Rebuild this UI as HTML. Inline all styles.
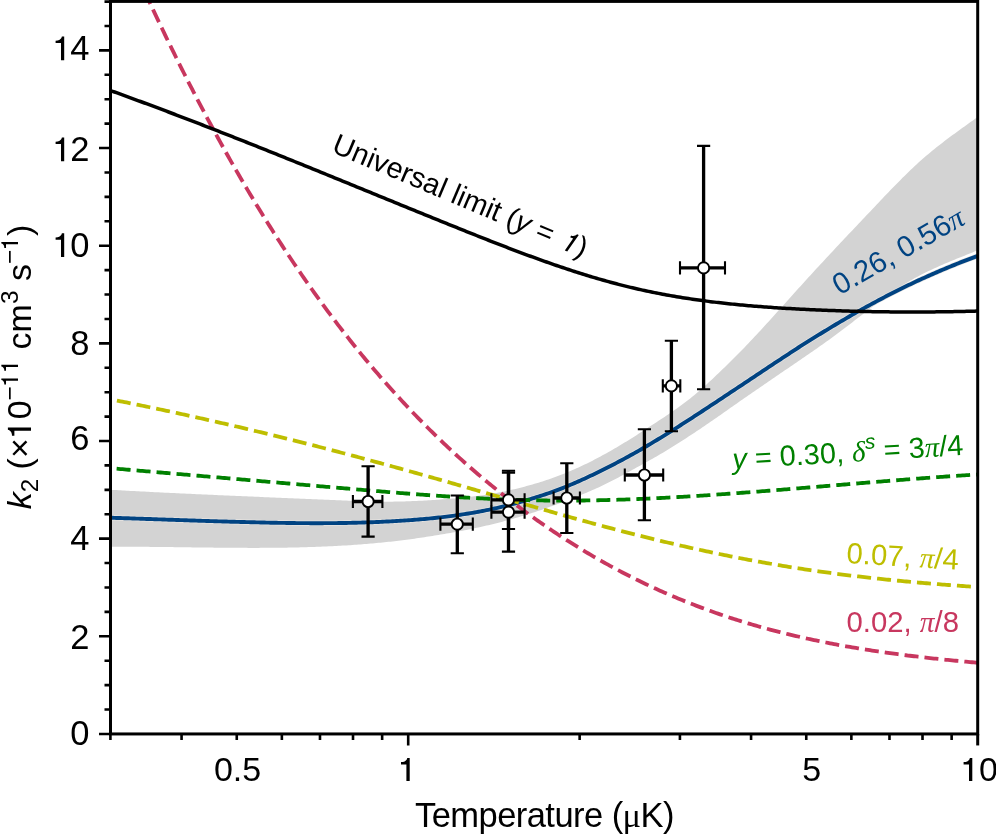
<!DOCTYPE html><html><head><meta charset="utf-8"><style>html,body{margin:0;padding:0;background:#fff;overflow:hidden}svg{display:block}</style></head><body>
<svg style="will-change:transform" width="996" height="835" viewBox="0 0 996 835" font-family="Liberation Sans, sans-serif">
<defs><clipPath id="c"><rect x="110.5" y="1.6" width="867.2" height="732.4"/></clipPath></defs>
<rect width="996" height="835" fill="#fff"/>
<g clip-path="url(#c)" fill="none">
<path d="M110.50 489.79L112.50 489.90L114.50 490.01L116.50 490.12L118.50 490.23L120.50 490.35L122.50 490.46L124.50 490.56L126.50 490.67L128.50 490.78L130.50 490.89L132.50 491.00L134.50 491.10L136.50 491.21L138.50 491.31L140.50 491.42L142.50 491.52L144.50 491.62L146.50 491.73L148.50 491.83L150.50 491.93L152.50 492.03L154.50 492.13L156.50 492.23L158.50 492.33L160.50 492.43L162.50 492.53L164.50 492.63L166.50 492.73L168.50 492.83L170.50 492.92L172.50 493.02L174.50 493.12L176.50 493.21L178.50 493.31L180.50 493.40L182.50 493.50L184.50 493.59L186.50 493.69L188.50 493.78L190.50 493.87L192.50 493.97L194.50 494.06L196.50 494.15L198.50 494.24L200.50 494.33L202.50 494.42L204.50 494.51L206.50 494.61L208.50 494.70L210.50 494.78L212.50 494.87L214.50 494.96L216.50 495.05L218.50 495.14L220.50 495.23L222.50 495.32L224.50 495.41L226.50 495.49L228.50 495.58L230.50 495.67L232.50 495.76L234.50 495.84L236.50 495.93L238.50 496.02L240.50 496.10L242.50 496.19L244.50 496.27L246.50 496.36L248.50 496.45L250.50 496.53L252.50 496.62L254.50 496.70L256.50 496.79L258.50 496.87L260.50 496.96L262.50 497.04L264.50 497.13L266.50 497.21L268.50 497.30L270.50 497.38L272.50 497.46L274.50 497.55L276.50 497.63L278.50 497.72L280.50 497.80L282.50 497.89L284.50 497.97L286.50 498.06L288.50 498.14L290.50 498.22L292.50 498.31L294.50 498.39L296.50 498.48L298.50 498.56L300.50 498.65L302.50 498.73L304.50 498.82L306.50 498.90L308.50 498.98L310.50 499.07L312.50 499.15L314.50 499.24L316.50 499.32L318.50 499.41L320.50 499.50L322.50 499.58L324.50 499.67L326.50 499.75L328.50 499.84L330.50 499.92L332.50 500.01L334.50 500.10L336.50 500.18L338.50 500.27L340.50 500.35L342.50 500.44L344.50 500.52L346.50 500.61L348.50 500.69L350.50 500.77L352.50 500.85L354.50 500.93L356.50 501.00L358.50 501.08L360.50 501.15L362.50 501.22L364.50 501.29L366.50 501.36L368.50 501.42L370.50 501.48L372.50 501.54L374.50 501.59L376.50 501.63L378.50 501.66L380.50 501.68L382.50 501.70L384.50 501.70L386.50 501.70L388.50 501.68L390.50 501.66L392.50 501.63L394.50 501.60L396.50 501.57L398.50 501.53L400.50 501.48L402.50 501.43L404.50 501.38L406.50 501.32L408.50 501.25L410.50 501.18L412.50 501.10L414.50 501.02L416.50 500.94L418.50 500.85L420.50 500.76L422.50 500.66L424.50 500.56L426.50 500.45L428.50 500.34L430.50 500.22L432.50 500.10L434.50 499.97L436.50 499.83L438.50 499.68L440.50 499.53L442.50 499.37L444.50 499.21L446.50 499.05L448.50 498.88L450.50 498.72L452.50 498.55L454.50 498.38L456.50 498.21L458.50 498.04L460.50 497.87L462.50 497.68L464.50 497.48L466.50 497.28L468.50 497.07L470.50 496.84L472.50 496.61L474.50 496.36L476.50 496.11L478.50 495.85L480.50 495.57L482.50 495.28L484.50 494.99L486.50 494.68L488.50 494.36L490.50 494.03L492.50 493.69L494.50 493.34L496.50 492.97L498.50 492.60L500.50 492.21L502.50 491.81L504.50 491.40L506.50 490.97L508.50 490.53L510.50 490.08L512.50 489.62L514.50 489.15L516.50 488.67L518.50 488.18L520.50 487.68L522.50 487.16L524.50 486.64L526.50 486.11L528.50 485.56L530.50 485.01L532.50 484.44L534.50 483.86L536.50 483.26L538.50 482.65L540.50 482.03L542.50 481.40L544.50 480.75L546.50 480.09L548.50 479.41L550.50 478.72L552.50 478.02L554.50 477.30L556.50 476.56L558.50 475.81L560.50 475.04L562.50 474.26L564.50 473.46L566.50 472.64L568.50 471.81L570.50 470.96L572.50 470.09L574.50 469.21L576.50 468.32L578.50 467.41L580.50 466.49L582.50 465.55L584.50 464.60L586.50 463.63L588.50 462.65L590.50 461.65L592.50 460.64L594.50 459.61L596.50 458.57L598.50 457.52L600.50 456.45L602.50 455.37L604.50 454.27L606.50 453.16L608.50 452.03L610.50 450.89L612.50 449.74L614.50 448.58L616.50 447.40L618.50 446.22L620.50 445.02L622.50 443.82L624.50 442.61L626.50 441.39L628.50 440.17L630.50 438.93L632.50 437.68L634.50 436.42L636.50 435.15L638.50 433.87L640.50 432.58L642.50 431.28L644.50 429.98L646.50 428.68L648.50 427.37L650.50 426.07L652.50 424.78L654.50 423.48L656.50 422.18L658.50 420.87L660.50 419.56L662.50 418.24L664.50 416.92L666.50 415.57L668.50 414.22L670.50 412.85L672.50 411.47L674.50 410.08L676.50 408.66L678.50 407.23L680.50 405.78L682.50 404.30L684.50 402.80L686.50 401.28L688.50 399.72L690.50 398.14L692.50 396.52L694.50 394.88L696.50 393.21L698.50 391.51L700.50 389.78L702.50 388.03L704.50 386.25L706.50 384.45L708.50 382.62L710.50 380.77L712.50 378.90L714.50 377.01L716.50 375.11L718.50 373.21L720.50 371.29L722.50 369.36L724.50 367.42L726.50 365.48L728.50 363.52L730.50 361.56L732.50 359.58L734.50 357.58L736.50 355.57L738.50 353.54L740.50 351.50L742.50 349.45L744.50 347.38L746.50 345.30L748.50 343.21L750.50 341.10L752.50 338.99L754.50 336.86L756.50 334.73L758.50 332.58L760.50 330.41L762.50 328.24L764.50 326.06L766.50 323.87L768.50 321.67L770.50 319.47L772.50 317.26L774.50 315.04L776.50 312.83L778.50 310.61L780.50 308.38L782.50 306.16L784.50 303.93L786.50 301.71L788.50 299.48L790.50 297.25L792.50 295.03L794.50 292.81L796.50 290.59L798.50 288.37L800.50 286.16L802.50 283.95L804.50 281.74L806.50 279.54L808.50 277.35L810.50 275.16L812.50 272.97L814.50 270.80L816.50 268.62L818.50 266.45L820.50 264.29L822.50 262.13L824.50 259.97L826.50 257.82L828.50 255.68L830.50 253.53L832.50 251.39L834.50 249.25L836.50 247.12L838.50 244.99L840.50 242.86L842.50 240.73L844.50 238.61L846.50 236.49L848.50 234.37L850.50 232.25L852.50 230.13L854.50 228.02L856.50 225.90L858.50 223.79L860.50 221.68L862.50 219.57L864.50 217.46L866.50 215.35L868.50 213.24L870.50 211.13L872.50 209.02L874.50 206.91L876.50 204.80L878.50 202.69L880.50 200.58L882.50 198.47L884.50 196.37L886.50 194.27L888.50 192.19L890.50 190.11L892.50 188.04L894.50 185.98L896.50 183.93L898.50 181.89L900.50 179.88L902.50 177.87L904.50 175.89L906.50 173.92L908.50 171.98L910.50 170.05L912.50 168.15L914.50 166.27L916.50 164.42L918.50 162.60L920.50 160.80L922.50 159.03L924.50 157.29L926.50 155.58L928.50 153.89L930.50 152.22L932.50 150.58L934.50 148.95L936.50 147.35L938.50 145.77L940.50 144.20L942.50 142.65L944.50 141.12L946.50 139.60L948.50 138.09L950.50 136.60L952.50 135.12L954.50 133.64L956.50 132.18L958.50 130.72L960.50 129.27L962.50 127.82L964.50 126.38L966.50 124.94L968.50 123.51L970.50 122.07L972.50 120.63L974.50 119.19L976.50 117.75L977.70 116.88L977.70 250.32L976.50 250.81L974.50 251.62L972.50 252.43L970.50 253.23L968.50 254.03L966.50 254.84L964.50 255.64L962.50 256.44L960.50 257.25L958.50 258.06L956.50 258.87L954.50 259.69L952.50 260.51L950.50 261.34L948.50 262.18L946.50 263.02L944.50 263.87L942.50 264.74L940.50 265.61L938.50 266.49L936.50 267.39L934.50 268.30L932.50 269.23L930.50 270.17L928.50 271.12L926.50 272.09L924.50 273.08L922.50 274.09L920.50 275.12L918.50 276.17L916.50 277.23L914.50 278.32L912.50 279.44L910.50 280.57L908.50 281.73L906.50 282.92L904.50 284.13L902.50 285.37L900.50 286.63L898.50 287.93L896.50 289.25L894.50 290.60L892.50 291.97L890.50 293.36L888.50 294.78L886.50 296.22L884.50 297.67L882.50 299.14L880.50 300.62L878.50 302.12L876.50 303.63L874.50 305.15L872.50 306.68L870.50 308.22L868.50 309.76L866.50 311.31L864.50 312.86L862.50 314.41L860.50 315.96L858.50 317.51L856.50 319.07L854.50 320.61L852.50 322.16L850.50 323.70L848.50 325.24L846.50 326.77L844.50 328.29L842.50 329.81L840.50 331.32L838.50 332.82L836.50 334.31L834.50 335.78L832.50 337.25L830.50 338.70L828.50 340.15L826.50 341.59L824.50 343.02L822.50 344.44L820.50 345.85L818.50 347.25L816.50 348.65L814.50 350.03L812.50 351.42L810.50 352.80L808.50 354.17L806.50 355.55L804.50 356.93L802.50 358.30L800.50 359.67L798.50 361.05L796.50 362.42L794.50 363.79L792.50 365.16L790.50 366.53L788.50 367.89L786.50 369.26L784.50 370.62L782.50 371.98L780.50 373.34L778.50 374.70L776.50 376.06L774.50 377.42L772.50 378.78L770.50 380.15L768.50 381.51L766.50 382.88L764.50 384.25L762.50 385.63L760.50 387.01L758.50 388.38L756.50 389.76L754.50 391.15L752.50 392.53L750.50 393.91L748.50 395.30L746.50 396.68L744.50 398.07L742.50 399.46L740.50 400.86L738.50 402.26L736.50 403.66L734.50 405.06L732.50 406.46L730.50 407.87L728.50 409.27L726.50 410.68L724.50 412.08L722.50 413.48L720.50 414.88L718.50 416.27L716.50 417.67L714.50 419.06L712.50 420.45L710.50 421.83L708.50 423.21L706.50 424.59L704.50 425.96L702.50 427.32L700.50 428.67L698.50 430.02L696.50 431.35L694.50 432.68L692.50 434.00L690.50 435.31L688.50 436.62L686.50 437.92L684.50 439.21L682.50 440.50L680.50 441.79L678.50 443.07L676.50 444.34L674.50 445.61L672.50 446.87L670.50 448.11L668.50 449.34L666.50 450.56L664.50 451.76L662.50 452.95L660.50 454.12L658.50 455.28L656.50 456.43L654.50 457.56L652.50 458.69L650.50 459.82L648.50 460.93L646.50 462.05L644.50 463.16L642.50 464.27L640.50 465.39L638.50 466.50L636.50 467.61L634.50 468.72L632.50 469.82L630.50 470.93L628.50 472.03L626.50 473.12L624.50 474.20L622.50 475.28L620.50 476.34L618.50 477.40L616.50 478.45L614.50 479.49L612.50 480.52L610.50 481.54L608.50 482.55L606.50 483.55L604.50 484.54L602.50 485.50L600.50 486.45L598.50 487.38L596.50 488.30L594.50 489.20L592.50 490.08L590.50 490.94L588.50 491.80L586.50 492.65L584.50 493.48L582.50 494.32L580.50 495.14L578.50 495.95L576.50 496.76L574.50 497.55L572.50 498.34L570.50 499.13L568.50 499.90L566.50 500.67L564.50 501.43L562.50 502.18L560.50 502.94L558.50 503.68L556.50 504.42L554.50 505.16L552.50 505.89L550.50 506.62L548.50 507.33L546.50 508.04L544.50 508.75L542.50 509.44L540.50 510.13L538.50 510.81L536.50 511.48L534.50 512.14L532.50 512.80L530.50 513.45L528.50 514.09L526.50 514.72L524.50 515.34L522.50 515.96L520.50 516.56L518.50 517.16L516.50 517.75L514.50 518.32L512.50 518.90L510.50 519.46L508.50 520.01L506.50 520.56L504.50 521.10L502.50 521.63L500.50 522.15L498.50 522.67L496.50 523.18L494.50 523.68L492.50 524.18L490.50 524.67L488.50 525.15L486.50 525.62L484.50 526.08L482.50 526.54L480.50 526.99L478.50 527.43L476.50 527.87L474.50 528.30L472.50 528.72L470.50 529.13L468.50 529.54L466.50 529.94L464.50 530.33L462.50 530.72L460.50 531.10L458.50 531.47L456.50 531.84L454.50 532.20L452.50 532.55L450.50 532.90L448.50 533.24L446.50 533.58L444.50 533.92L442.50 534.25L440.50 534.59L438.50 534.92L436.50 535.25L434.50 535.58L432.50 535.91L430.50 536.24L428.50 536.56L426.50 536.87L424.50 537.18L422.50 537.49L420.50 537.79L418.50 538.08L416.50 538.37L414.50 538.65L412.50 538.93L410.50 539.20L408.50 539.47L406.50 539.73L404.50 539.99L402.50 540.24L400.50 540.49L398.50 540.73L396.50 540.96L394.50 541.20L392.50 541.42L390.50 541.64L388.50 541.86L386.50 542.07L384.50 542.28L382.50 542.48L380.50 542.68L378.50 542.87L376.50 543.06L374.50 543.25L372.50 543.43L370.50 543.60L368.50 543.77L366.50 543.94L364.50 544.10L362.50 544.26L360.50 544.41L358.50 544.56L356.50 544.71L354.50 544.85L352.50 544.99L350.50 545.13L348.50 545.26L346.50 545.38L344.50 545.50L342.50 545.62L340.50 545.74L338.50 545.85L336.50 545.96L334.50 546.06L332.50 546.16L330.50 546.26L328.50 546.36L326.50 546.45L324.50 546.53L322.50 546.62L320.50 546.70L318.50 546.78L316.50 546.85L314.50 546.92L312.50 546.99L310.50 547.06L308.50 547.12L306.50 547.18L304.50 547.24L302.50 547.29L300.50 547.34L298.50 547.39L296.50 547.44L294.50 547.48L292.50 547.52L290.50 547.56L288.50 547.60L286.50 547.63L284.50 547.66L282.50 547.69L280.50 547.72L278.50 547.74L276.50 547.77L274.50 547.79L272.50 547.80L270.50 547.82L268.50 547.83L266.50 547.85L264.50 547.86L262.50 547.87L260.50 547.87L258.50 547.88L256.50 547.88L254.50 547.88L252.50 547.88L250.50 547.88L248.50 547.88L246.50 547.87L244.50 547.87L242.50 547.86L240.50 547.85L238.50 547.84L236.50 547.83L234.50 547.82L232.50 547.81L230.50 547.79L228.50 547.78L226.50 547.76L224.50 547.74L222.50 547.72L220.50 547.71L218.50 547.69L216.50 547.67L214.50 547.64L212.50 547.62L210.50 547.60L208.50 547.58L206.50 547.55L204.50 547.53L202.50 547.50L200.50 547.48L198.50 547.45L196.50 547.43L194.50 547.40L192.50 547.38L190.50 547.35L188.50 547.33L186.50 547.30L184.50 547.27L182.50 547.25L180.50 547.22L178.50 547.20L176.50 547.17L174.50 547.14L172.50 547.12L170.50 547.09L168.50 547.07L166.50 547.05L164.50 547.02L162.50 547.00L160.50 546.98L158.50 546.96L156.50 546.94L154.50 546.91L152.50 546.90L150.50 546.88L148.50 546.86L146.50 546.84L144.50 546.83L142.50 546.81L140.50 546.80L138.50 546.78L136.50 546.77L134.50 546.76L132.50 546.75L130.50 546.75L128.50 546.74L126.50 546.73L124.50 546.73L122.50 546.73L120.50 546.73L118.50 546.73L116.50 546.73L114.50 546.73L112.50 546.74L110.50 546.75Z" fill="#d3d3d3"/>
<path d="M110.50 517.74L112.50 517.80L114.50 517.86L116.50 517.93L118.50 517.99L120.50 518.06L122.50 518.12L124.50 518.19L126.50 518.25L128.50 518.32L130.50 518.39L132.50 518.45L134.50 518.52L136.50 518.59L138.50 518.65L140.50 518.72L142.50 518.79L144.50 518.86L146.50 518.93L148.50 518.99L150.50 519.06L152.50 519.13L154.50 519.20L156.50 519.27L158.50 519.34L160.50 519.41L162.50 519.48L164.50 519.54L166.50 519.61L168.50 519.68L170.50 519.75L172.50 519.82L174.50 519.89L176.50 519.96L178.50 520.02L180.50 520.09L182.50 520.16L184.50 520.23L186.50 520.30L188.50 520.36L190.50 520.43L192.50 520.50L194.50 520.56L196.50 520.63L198.50 520.69L200.50 520.76L202.50 520.83L204.50 520.89L206.50 520.95L208.50 521.02L210.50 521.08L212.50 521.14L214.50 521.21L216.50 521.27L218.50 521.33L220.50 521.39L222.50 521.45L224.50 521.51L226.50 521.57L228.50 521.63L230.50 521.69L232.50 521.74L234.50 521.80L236.50 521.86L238.50 521.91L240.50 521.96L242.50 522.02L244.50 522.07L246.50 522.12L248.50 522.17L250.50 522.22L252.50 522.27L254.50 522.32L256.50 522.37L258.50 522.42L260.50 522.46L262.50 522.51L264.50 522.55L266.50 522.60L268.50 522.64L270.50 522.68L272.50 522.72L274.50 522.76L276.50 522.79L278.50 522.83L280.50 522.86L282.50 522.89L284.50 522.92L286.50 522.95L288.50 522.98L290.50 523.01L292.50 523.03L294.50 523.06L296.50 523.08L298.50 523.10L300.50 523.12L302.50 523.13L304.50 523.15L306.50 523.16L308.50 523.17L310.50 523.18L312.50 523.18L314.50 523.19L316.50 523.19L318.50 523.19L320.50 523.19L322.50 523.18L324.50 523.17L326.50 523.16L328.50 523.15L330.50 523.14L332.50 523.12L334.50 523.10L336.50 523.08L338.50 523.05L340.50 523.03L342.50 523.00L344.50 522.96L346.50 522.93L348.50 522.89L350.50 522.85L352.50 522.81L354.50 522.76L356.50 522.71L358.50 522.65L360.50 522.60L362.50 522.54L364.50 522.48L366.50 522.41L368.50 522.34L370.50 522.27L372.50 522.19L374.50 522.11L376.50 522.03L378.50 521.95L380.50 521.86L382.50 521.76L384.50 521.67L386.50 521.57L388.50 521.46L390.50 521.36L392.50 521.24L394.50 521.13L396.50 521.01L398.50 520.89L400.50 520.77L402.50 520.64L404.50 520.51L406.50 520.37L408.50 520.23L410.50 520.09L412.50 519.94L414.50 519.79L416.50 519.63L418.50 519.47L420.50 519.30L422.50 519.13L424.50 518.95L426.50 518.77L428.50 518.58L430.50 518.39L432.50 518.19L434.50 517.98L436.50 517.77L438.50 517.55L440.50 517.33L442.50 517.10L444.50 516.86L446.50 516.62L448.50 516.37L450.50 516.11L452.50 515.85L454.50 515.58L456.50 515.30L458.50 515.02L460.50 514.72L462.50 514.43L464.50 514.12L466.50 513.80L468.50 513.48L470.50 513.15L472.50 512.82L474.50 512.47L476.50 512.11L478.50 511.75L480.50 511.38L482.50 511.00L484.50 510.61L486.50 510.21L488.50 509.80L490.50 509.38L492.50 508.95L494.50 508.52L496.50 508.07L498.50 507.62L500.50 507.15L502.50 506.68L504.50 506.20L506.50 505.70L508.50 505.20L510.50 504.68L512.50 504.16L514.50 503.63L516.50 503.08L518.50 502.53L520.50 501.96L522.50 501.38L524.50 500.80L526.50 500.21L528.50 499.62L530.50 499.02L532.50 498.41L534.50 497.80L536.50 497.18L538.50 496.55L540.50 495.91L542.50 495.26L544.50 494.60L546.50 493.93L548.50 493.25L550.50 492.55L552.50 491.84L554.50 491.12L556.50 490.38L558.50 489.63L560.50 488.86L562.50 488.08L564.50 487.28L566.50 486.47L568.50 485.64L570.50 484.80L572.50 483.95L574.50 483.10L576.50 482.23L578.50 481.35L580.50 480.46L582.50 479.56L584.50 478.65L586.50 477.73L588.50 476.80L590.50 475.86L592.50 474.92L594.50 473.96L596.50 472.99L598.50 472.02L600.50 471.04L602.50 470.05L604.50 469.05L606.50 468.04L608.50 467.02L610.50 466.00L612.50 464.97L614.50 463.93L616.50 462.88L618.50 461.82L620.50 460.76L622.50 459.69L624.50 458.61L626.50 457.52L628.50 456.43L630.50 455.33L632.50 454.23L634.50 453.11L636.50 451.98L638.50 450.85L640.50 449.70L642.50 448.55L644.50 447.38L646.50 446.21L648.50 445.02L650.50 443.83L652.50 442.63L654.50 441.43L656.50 440.22L658.50 439.01L660.50 437.79L662.50 436.56L664.50 435.33L666.50 434.09L668.50 432.85L670.50 431.59L672.50 430.34L674.50 429.07L676.50 427.81L678.50 426.53L680.50 425.26L682.50 423.98L684.50 422.69L686.50 421.41L688.50 420.12L690.50 418.82L692.50 417.53L694.50 416.23L696.50 414.92L698.50 413.62L700.50 412.31L702.50 411.00L704.50 409.68L706.50 408.37L708.50 407.05L710.50 405.73L712.50 404.41L714.50 403.08L716.50 401.76L718.50 400.43L720.50 399.11L722.50 397.78L724.50 396.46L726.50 395.13L728.50 393.81L730.50 392.48L732.50 391.15L734.50 389.83L736.50 388.50L738.50 387.17L740.50 385.84L742.50 384.51L744.50 383.18L746.50 381.85L748.50 380.52L750.50 379.19L752.50 377.86L754.50 376.53L756.50 375.20L758.50 373.87L760.50 372.54L762.50 371.21L764.50 369.88L766.50 368.55L768.50 367.22L770.50 365.89L772.50 364.57L774.50 363.24L776.50 361.92L778.50 360.60L780.50 359.28L782.50 357.96L784.50 356.64L786.50 355.33L788.50 354.01L790.50 352.70L792.50 351.40L794.50 350.10L796.50 348.80L798.50 347.51L800.50 346.23L802.50 344.96L804.50 343.69L806.50 342.42L808.50 341.17L810.50 339.92L812.50 338.67L814.50 337.43L816.50 336.19L818.50 334.96L820.50 333.73L822.50 332.50L824.50 331.28L826.50 330.06L828.50 328.85L830.50 327.64L832.50 326.43L834.50 325.23L836.50 324.04L838.50 322.85L840.50 321.66L842.50 320.48L844.50 319.31L846.50 318.14L848.50 316.97L850.50 315.81L852.50 314.66L854.50 313.51L856.50 312.37L858.50 311.24L860.50 310.11L862.50 308.99L864.50 307.88L866.50 306.78L868.50 305.68L870.50 304.59L872.50 303.50L874.50 302.43L876.50 301.35L878.50 300.29L880.50 299.23L882.50 298.17L884.50 297.12L886.50 296.08L888.50 295.05L890.50 294.02L892.50 293.00L894.50 291.98L896.50 290.97L898.50 289.97L900.50 288.98L902.50 288.00L904.50 287.02L906.50 286.05L908.50 285.09L910.50 284.14L912.50 283.19L914.50 282.25L916.50 281.32L918.50 280.39L920.50 279.47L922.50 278.56L924.50 277.66L926.50 276.76L928.50 275.87L930.50 274.98L932.50 274.10L934.50 273.22L936.50 272.35L938.50 271.49L940.50 270.63L942.50 269.78L944.50 268.94L946.50 268.10L948.50 267.27L950.50 266.45L952.50 265.63L954.50 264.82L956.50 264.01L958.50 263.22L960.50 262.43L962.50 261.64L964.50 260.87L966.50 260.11L968.50 259.35L970.50 258.60L972.50 257.87L974.50 257.14L976.50 256.43L977.70 256.00" stroke="#e8e5e2" stroke-width="5.2"/>
<path d="M110.50 517.74L112.50 517.80L114.50 517.86L116.50 517.93L118.50 517.99L120.50 518.06L122.50 518.12L124.50 518.19L126.50 518.25L128.50 518.32L130.50 518.39L132.50 518.45L134.50 518.52L136.50 518.59L138.50 518.65L140.50 518.72L142.50 518.79L144.50 518.86L146.50 518.93L148.50 518.99L150.50 519.06L152.50 519.13L154.50 519.20L156.50 519.27L158.50 519.34L160.50 519.41L162.50 519.48L164.50 519.54L166.50 519.61L168.50 519.68L170.50 519.75L172.50 519.82L174.50 519.89L176.50 519.96L178.50 520.02L180.50 520.09L182.50 520.16L184.50 520.23L186.50 520.30L188.50 520.36L190.50 520.43L192.50 520.50L194.50 520.56L196.50 520.63L198.50 520.69L200.50 520.76L202.50 520.83L204.50 520.89L206.50 520.95L208.50 521.02L210.50 521.08L212.50 521.14L214.50 521.21L216.50 521.27L218.50 521.33L220.50 521.39L222.50 521.45L224.50 521.51L226.50 521.57L228.50 521.63L230.50 521.69L232.50 521.74L234.50 521.80L236.50 521.86L238.50 521.91L240.50 521.96L242.50 522.02L244.50 522.07L246.50 522.12L248.50 522.17L250.50 522.22L252.50 522.27L254.50 522.32L256.50 522.37L258.50 522.42L260.50 522.46L262.50 522.51L264.50 522.55L266.50 522.60L268.50 522.64L270.50 522.68L272.50 522.72L274.50 522.76L276.50 522.79L278.50 522.83L280.50 522.86L282.50 522.89L284.50 522.92L286.50 522.95L288.50 522.98L290.50 523.01L292.50 523.03L294.50 523.06L296.50 523.08L298.50 523.10L300.50 523.12L302.50 523.13L304.50 523.15L306.50 523.16L308.50 523.17L310.50 523.18L312.50 523.18L314.50 523.19L316.50 523.19L318.50 523.19L320.50 523.19L322.50 523.18L324.50 523.17L326.50 523.16L328.50 523.15L330.50 523.14L332.50 523.12L334.50 523.10L336.50 523.08L338.50 523.05L340.50 523.03L342.50 523.00L344.50 522.96L346.50 522.93L348.50 522.89L350.50 522.85L352.50 522.81L354.50 522.76L356.50 522.71L358.50 522.65L360.50 522.60L362.50 522.54L364.50 522.48L366.50 522.41L368.50 522.34L370.50 522.27L372.50 522.19L374.50 522.11L376.50 522.03L378.50 521.95L380.50 521.86L382.50 521.76L384.50 521.67L386.50 521.57L388.50 521.46L390.50 521.36L392.50 521.24L394.50 521.13L396.50 521.01L398.50 520.89L400.50 520.77L402.50 520.64L404.50 520.51L406.50 520.37L408.50 520.23L410.50 520.09L412.50 519.94L414.50 519.79L416.50 519.63L418.50 519.47L420.50 519.30L422.50 519.13L424.50 518.95L426.50 518.77L428.50 518.58L430.50 518.39L432.50 518.19L434.50 517.98L436.50 517.77L438.50 517.55L440.50 517.33L442.50 517.10L444.50 516.86L446.50 516.62L448.50 516.37L450.50 516.11L452.50 515.85L454.50 515.58L456.50 515.30L458.50 515.02L460.50 514.72L462.50 514.43L464.50 514.12L466.50 513.80L468.50 513.48L470.50 513.15L472.50 512.82L474.50 512.47L476.50 512.11L478.50 511.75L480.50 511.38L482.50 511.00L484.50 510.61L486.50 510.21L488.50 509.80L490.50 509.38L492.50 508.95L494.50 508.52L496.50 508.07L498.50 507.62L500.50 507.15L502.50 506.68L504.50 506.20L506.50 505.70L508.50 505.20L510.50 504.68L512.50 504.16L514.50 503.63L516.50 503.08L518.50 502.53L520.50 501.96L522.50 501.38L524.50 500.80L526.50 500.21L528.50 499.62L530.50 499.02L532.50 498.41L534.50 497.80L536.50 497.18L538.50 496.55L540.50 495.91L542.50 495.26L544.50 494.60L546.50 493.93L548.50 493.25L550.50 492.55L552.50 491.84L554.50 491.12L556.50 490.38L558.50 489.63L560.50 488.86L562.50 488.08L564.50 487.28L566.50 486.47L568.50 485.64L570.50 484.80L572.50 483.95L574.50 483.10L576.50 482.23L578.50 481.35L580.50 480.46L582.50 479.56L584.50 478.65L586.50 477.73L588.50 476.80L590.50 475.86L592.50 474.92L594.50 473.96L596.50 472.99L598.50 472.02L600.50 471.04L602.50 470.05L604.50 469.05L606.50 468.04L608.50 467.02L610.50 466.00L612.50 464.97L614.50 463.93L616.50 462.88L618.50 461.82L620.50 460.76L622.50 459.69L624.50 458.61L626.50 457.52L628.50 456.43L630.50 455.33L632.50 454.23L634.50 453.11L636.50 451.98L638.50 450.85L640.50 449.70L642.50 448.55L644.50 447.38L646.50 446.21L648.50 445.02L650.50 443.83L652.50 442.63L654.50 441.43L656.50 440.22L658.50 439.01L660.50 437.79L662.50 436.56L664.50 435.33L666.50 434.09L668.50 432.85L670.50 431.59L672.50 430.34L674.50 429.07L676.50 427.81L678.50 426.53L680.50 425.26L682.50 423.98L684.50 422.69L686.50 421.41L688.50 420.12L690.50 418.82L692.50 417.53L694.50 416.23L696.50 414.92L698.50 413.62L700.50 412.31L702.50 411.00L704.50 409.68L706.50 408.37L708.50 407.05L710.50 405.73L712.50 404.41L714.50 403.08L716.50 401.76L718.50 400.43L720.50 399.11L722.50 397.78L724.50 396.46L726.50 395.13L728.50 393.81L730.50 392.48L732.50 391.15L734.50 389.83L736.50 388.50L738.50 387.17L740.50 385.84L742.50 384.51L744.50 383.18L746.50 381.85L748.50 380.52L750.50 379.19L752.50 377.86L754.50 376.53L756.50 375.20L758.50 373.87L760.50 372.54L762.50 371.21L764.50 369.88L766.50 368.55L768.50 367.22L770.50 365.89L772.50 364.57L774.50 363.24L776.50 361.92L778.50 360.60L780.50 359.28L782.50 357.96L784.50 356.64L786.50 355.33L788.50 354.01L790.50 352.70L792.50 351.40L794.50 350.10L796.50 348.80L798.50 347.51L800.50 346.23L802.50 344.96L804.50 343.69L806.50 342.42L808.50 341.17L810.50 339.92L812.50 338.67L814.50 337.43L816.50 336.19L818.50 334.96L820.50 333.73L822.50 332.50L824.50 331.28L826.50 330.06L828.50 328.85L830.50 327.64L832.50 326.43L834.50 325.23L836.50 324.04L838.50 322.85L840.50 321.66L842.50 320.48L844.50 319.31L846.50 318.14L848.50 316.97L850.50 315.81L852.50 314.66L854.50 313.51L856.50 312.37L858.50 311.24L860.50 310.11L862.50 308.99L864.50 307.88L866.50 306.78L868.50 305.68L870.50 304.59L872.50 303.50L874.50 302.43L876.50 301.35L878.50 300.29L880.50 299.23L882.50 298.17L884.50 297.12L886.50 296.08L888.50 295.05L890.50 294.02L892.50 293.00L894.50 291.98L896.50 290.97L898.50 289.97L900.50 288.98L902.50 288.00L904.50 287.02L906.50 286.05L908.50 285.09L910.50 284.14L912.50 283.19L914.50 282.25L916.50 281.32L918.50 280.39L920.50 279.47L922.50 278.56L924.50 277.66L926.50 276.76L928.50 275.87L930.50 274.98L932.50 274.10L934.50 273.22L936.50 272.35L938.50 271.49L940.50 270.63L942.50 269.78L944.50 268.94L946.50 268.10L948.50 267.27L950.50 266.45L952.50 265.63L954.50 264.82L956.50 264.01L958.50 263.22L960.50 262.43L962.50 261.64L964.50 260.87L966.50 260.11L968.50 259.35L970.50 258.60L972.50 257.87L974.50 257.14L976.50 256.43L977.70 256.00" stroke="#004382" stroke-width="3.9"/>
<path d="M110.50 468.19L112.50 468.36L114.50 468.53L116.50 468.71L118.50 468.88L120.50 469.05L122.50 469.22L124.50 469.40L126.50 469.57L128.50 469.74L130.50 469.91L132.50 470.08L134.50 470.26L136.50 470.43L138.50 470.60L140.50 470.77L142.50 470.95L144.50 471.12L146.50 471.29L148.50 471.46L150.50 471.63L152.50 471.81L154.50 471.98L156.50 472.15L158.50 472.32L160.50 472.49L162.50 472.67L164.50 472.84L166.50 473.01L168.50 473.18L170.50 473.36L172.50 473.53L174.50 473.70L176.50 473.87L178.50 474.04L180.50 474.22L182.50 474.39L184.50 474.56L186.50 474.73L188.50 474.90L190.50 475.08L192.50 475.25L194.50 475.42L196.50 475.59L198.50 475.76L200.50 475.94L202.50 476.11L204.50 476.28L206.50 476.45L208.50 476.62L210.50 476.80L212.50 476.97L214.50 477.14L216.50 477.31L218.50 477.48L220.50 477.66L222.50 477.83L224.50 478.00L226.50 478.17L228.50 478.34L230.50 478.52L232.50 478.69L234.50 478.86L236.50 479.03L238.50 479.20L240.50 479.38L242.50 479.55L244.50 479.72L246.50 479.89L248.50 480.07L250.50 480.24L252.50 480.41L254.50 480.58L256.50 480.75L258.50 480.93L260.50 481.10L262.50 481.27L264.50 481.44L266.50 481.61L268.50 481.79L270.50 481.96L272.50 482.13L274.50 482.30L276.50 482.48L278.50 482.65L280.50 482.82L282.50 482.99L284.50 483.16L286.50 483.34L288.50 483.51L290.50 483.68L292.50 483.85L294.50 484.03L296.50 484.20L298.50 484.37L300.50 484.54L302.50 484.72L304.50 484.89L306.50 485.06L308.50 485.23L310.50 485.40L312.50 485.58L314.50 485.75L316.50 485.92L318.50 486.09L320.50 486.27L322.50 486.44L324.50 486.61L326.50 486.78L328.50 486.96L330.50 487.13L332.50 487.30L334.50 487.48L336.50 487.65L338.50 487.82L340.50 487.99L342.50 488.17L344.50 488.34L346.50 488.51L348.50 488.68L350.50 488.85L352.50 489.03L354.50 489.20L356.50 489.37L358.50 489.54L360.50 489.71L362.50 489.88L364.50 490.05L366.50 490.22L368.50 490.39L370.50 490.56L372.50 490.73L374.50 490.89L376.50 491.06L378.50 491.23L380.50 491.39L382.50 491.56L384.50 491.72L386.50 491.89L388.50 492.05L390.50 492.21L392.50 492.38L394.50 492.54L396.50 492.70L398.50 492.86L400.50 493.02L402.50 493.17L404.50 493.33L406.50 493.49L408.50 493.64L410.50 493.80L412.50 493.95L414.50 494.10L416.50 494.25L418.50 494.40L420.50 494.55L422.50 494.70L424.50 494.85L426.50 494.99L428.50 495.13L430.50 495.28L432.50 495.42L434.50 495.56L436.50 495.70L438.50 495.84L440.50 495.97L442.50 496.11L444.50 496.24L446.50 496.37L448.50 496.50L450.50 496.63L452.50 496.76L454.50 496.88L456.50 497.01L458.50 497.13L460.50 497.25L462.50 497.37L464.50 497.49L466.50 497.60L468.50 497.72L470.50 497.83L472.50 497.94L474.50 498.05L476.50 498.16L478.50 498.26L480.50 498.36L482.50 498.47L484.50 498.56L486.50 498.66L488.50 498.76L490.50 498.85L492.50 498.94L494.50 499.03L496.50 499.12L498.50 499.20L500.50 499.28L502.50 499.36L504.50 499.44L506.50 499.52L508.50 499.59L510.50 499.66L512.50 499.73L514.50 499.80L516.50 499.86L518.50 499.92L520.50 499.98L522.50 500.04L524.50 500.09L526.50 500.14L528.50 500.19L530.50 500.24L532.50 500.28L534.50 500.32L536.50 500.36L538.50 500.40L540.50 500.43L542.50 500.46L544.50 500.49L546.50 500.51L548.50 500.53L550.50 500.55L552.50 500.57L554.50 500.58L556.50 500.59L558.50 500.60L560.50 500.61L562.50 500.61L564.50 500.61L566.50 500.61L568.50 500.61L570.50 500.60L572.50 500.59L574.50 500.58L576.50 500.56L578.50 500.55L580.50 500.53L582.50 500.50L584.50 500.48L586.50 500.45L588.50 500.43L590.50 500.39L592.50 500.36L594.50 500.32L596.50 500.29L598.50 500.25L600.50 500.20L602.50 500.16L604.50 500.11L606.50 500.06L608.50 500.01L610.50 499.96L612.50 499.90L614.50 499.85L616.50 499.79L618.50 499.72L620.50 499.66L622.50 499.59L624.50 499.53L626.50 499.46L628.50 499.39L630.50 499.31L632.50 499.24L634.50 499.16L636.50 499.08L638.50 499.00L640.50 498.92L642.50 498.83L644.50 498.74L646.50 498.66L648.50 498.57L650.50 498.48L652.50 498.38L654.50 498.29L656.50 498.19L658.50 498.09L660.50 497.99L662.50 497.89L664.50 497.79L666.50 497.68L668.50 497.58L670.50 497.47L672.50 497.36L674.50 497.25L676.50 497.14L678.50 497.02L680.50 496.91L682.50 496.79L684.50 496.67L686.50 496.55L688.50 496.43L690.50 496.31L692.50 496.19L694.50 496.06L696.50 495.94L698.50 495.81L700.50 495.68L702.50 495.55L704.50 495.42L706.50 495.29L708.50 495.16L710.50 495.02L712.50 494.89L714.50 494.75L716.50 494.61L718.50 494.47L720.50 494.34L722.50 494.19L724.50 494.05L726.50 493.91L728.50 493.77L730.50 493.62L732.50 493.48L734.50 493.33L736.50 493.19L738.50 493.04L740.50 492.89L742.50 492.74L744.50 492.59L746.50 492.44L748.50 492.29L750.50 492.14L752.50 491.98L754.50 491.83L756.50 491.67L758.50 491.52L760.50 491.36L762.50 491.21L764.50 491.05L766.50 490.89L768.50 490.74L770.50 490.58L772.50 490.42L774.50 490.26L776.50 490.10L778.50 489.94L780.50 489.78L782.50 489.62L784.50 489.45L786.50 489.29L788.50 489.13L790.50 488.97L792.50 488.80L794.50 488.64L796.50 488.48L798.50 488.31L800.50 488.15L802.50 487.98L804.50 487.82L806.50 487.65L808.50 487.49L810.50 487.32L812.50 487.16L814.50 486.99L816.50 486.82L818.50 486.66L820.50 486.49L822.50 486.32L824.50 486.16L826.50 485.99L828.50 485.82L830.50 485.66L832.50 485.49L834.50 485.32L836.50 485.16L838.50 484.99L840.50 484.82L842.50 484.66L844.50 484.49L846.50 484.32L848.50 484.16L850.50 483.99L852.50 483.83L854.50 483.66L856.50 483.49L858.50 483.33L860.50 483.16L862.50 483.00L864.50 482.83L866.50 482.67L868.50 482.50L870.50 482.34L872.50 482.18L874.50 482.01L876.50 481.85L878.50 481.69L880.50 481.53L882.50 481.37L884.50 481.20L886.50 481.04L888.50 480.88L890.50 480.72L892.50 480.56L894.50 480.40L896.50 480.25L898.50 480.09L900.50 479.93L902.50 479.77L904.50 479.62L906.50 479.46L908.50 479.31L910.50 479.15L912.50 479.00L914.50 478.85L916.50 478.70L918.50 478.54L920.50 478.39L922.50 478.24L924.50 478.09L926.50 477.95L928.50 477.80L930.50 477.65L932.50 477.51L934.50 477.36L936.50 477.22L938.50 477.07L940.50 476.93L942.50 476.79L944.50 476.65L946.50 476.51L948.50 476.37L950.50 476.23L952.50 476.10L954.50 475.96L956.50 475.83L958.50 475.69L960.50 475.56L962.50 475.43L964.50 475.30L966.50 475.17L968.50 475.04L970.50 474.91L972.50 474.79L974.50 474.66L976.50 474.54L977.70 474.47" stroke="#008000" stroke-width="3.8" stroke-dasharray="14.00 6.04" stroke-dashoffset="13.90"/>
<path d="M110.50 399.29L112.50 399.69L114.50 400.08L116.50 400.48L118.50 400.87L120.50 401.27L122.50 401.67L124.50 402.07L126.50 402.48L128.50 402.88L130.50 403.29L132.50 403.69L134.50 404.10L136.50 404.51L138.50 404.92L140.50 405.33L142.50 405.74L144.50 406.16L146.50 406.57L148.50 406.99L150.50 407.40L152.50 407.82L154.50 408.24L156.50 408.66L158.50 409.09L160.50 409.51L162.50 409.93L164.50 410.36L166.50 410.79L168.50 411.22L170.50 411.65L172.50 412.08L174.50 412.51L176.50 412.94L178.50 413.38L180.50 413.81L182.50 414.25L184.50 414.69L186.50 415.13L188.50 415.57L190.50 416.01L192.50 416.45L194.50 416.90L196.50 417.34L198.50 417.79L200.50 418.24L202.50 418.69L204.50 419.14L206.50 419.59L208.50 420.04L210.50 420.49L212.50 420.95L214.50 421.41L216.50 421.86L218.50 422.32L220.50 422.78L222.50 423.24L224.50 423.70L226.50 424.17L228.50 424.63L230.50 425.10L232.50 425.56L234.50 426.03L236.50 426.50L238.50 426.97L240.50 427.44L242.50 427.92L244.50 428.39L246.50 428.87L248.50 429.34L250.50 429.82L252.50 430.30L254.50 430.78L256.50 431.26L258.50 431.74L260.50 432.22L262.50 432.71L264.50 433.19L266.50 433.68L268.50 434.17L270.50 434.66L272.50 435.15L274.50 435.64L276.50 436.13L278.50 436.62L280.50 437.12L282.50 437.61L284.50 438.11L286.50 438.61L288.50 439.11L290.50 439.61L292.50 440.11L294.50 440.61L296.50 441.12L298.50 441.62L300.50 442.13L302.50 442.63L304.50 443.14L306.50 443.65L308.50 444.16L310.50 444.67L312.50 445.18L314.50 445.70L316.50 446.21L318.50 446.73L320.50 447.24L322.50 447.76L324.50 448.28L326.50 448.80L328.50 449.32L330.50 449.84L332.50 450.37L334.50 450.89L336.50 451.41L338.50 451.94L340.50 452.47L342.50 452.99L344.50 453.52L346.50 454.05L348.50 454.58L350.50 455.11L352.50 455.65L354.50 456.18L356.50 456.71L358.50 457.25L360.50 457.79L362.50 458.32L364.50 458.86L366.50 459.40L368.50 459.94L370.50 460.48L372.50 461.02L374.50 461.56L376.50 462.11L378.50 462.65L380.50 463.20L382.50 463.74L384.50 464.29L386.50 464.84L388.50 465.39L390.50 465.93L392.50 466.48L394.50 467.04L396.50 467.59L398.50 468.14L400.50 468.69L402.50 469.25L404.50 469.80L406.50 470.36L408.50 470.91L410.50 471.47L412.50 472.03L414.50 472.59L416.50 473.15L418.50 473.71L420.50 474.27L422.50 474.83L424.50 475.39L426.50 475.95L428.50 476.52L430.50 477.08L432.50 477.65L434.50 478.21L436.50 478.78L438.50 479.35L440.50 479.91L442.50 480.48L444.50 481.05L446.50 481.62L448.50 482.19L450.50 482.76L452.50 483.33L454.50 483.91L456.50 484.48L458.50 485.05L460.50 485.63L462.50 486.20L464.50 486.78L466.50 487.35L468.50 487.93L470.50 488.50L472.50 489.08L474.50 489.66L476.50 490.24L478.50 490.81L480.50 491.39L482.50 491.97L484.50 492.55L486.50 493.13L488.50 493.71L490.50 494.29L492.50 494.87L494.50 495.45L496.50 496.03L498.50 496.61L500.50 497.19L502.50 497.77L504.50 498.35L506.50 498.93L508.50 499.51L510.50 500.09L512.50 500.66L514.50 501.24L516.50 501.82L518.50 502.40L520.50 502.98L522.50 503.56L524.50 504.13L526.50 504.71L528.50 505.29L530.50 505.86L532.50 506.44L534.50 507.02L536.50 507.59L538.50 508.16L540.50 508.74L542.50 509.31L544.50 509.88L546.50 510.45L548.50 511.02L550.50 511.59L552.50 512.16L554.50 512.73L556.50 513.30L558.50 513.86L560.50 514.43L562.50 514.99L564.50 515.56L566.50 516.12L568.50 516.68L570.50 517.24L572.50 517.80L574.50 518.36L576.50 518.91L578.50 519.47L580.50 520.02L582.50 520.58L584.50 521.13L586.50 521.68L588.50 522.23L590.50 522.78L592.50 523.32L594.50 523.87L596.50 524.41L598.50 524.95L600.50 525.49L602.50 526.03L604.50 526.57L606.50 527.10L608.50 527.64L610.50 528.17L612.50 528.70L614.50 529.23L616.50 529.75L618.50 530.28L620.50 530.80L622.50 531.32L624.50 531.84L626.50 532.36L628.50 532.87L630.50 533.39L632.50 533.90L634.50 534.41L636.50 534.92L638.50 535.42L640.50 535.92L642.50 536.42L644.50 536.92L646.50 537.42L648.50 537.91L650.50 538.41L652.50 538.90L654.50 539.39L656.50 539.87L658.50 540.36L660.50 540.84L662.50 541.32L664.50 541.79L666.50 542.27L668.50 542.74L670.50 543.21L672.50 543.68L674.50 544.15L676.50 544.61L678.50 545.07L680.50 545.53L682.50 545.99L684.50 546.45L686.50 546.90L688.50 547.35L690.50 547.80L692.50 548.25L694.50 548.69L696.50 549.13L698.50 549.57L700.50 550.01L702.50 550.44L704.50 550.87L706.50 551.30L708.50 551.73L710.50 552.16L712.50 552.58L714.50 553.00L716.50 553.42L718.50 553.83L720.50 554.24L722.50 554.66L724.50 555.06L726.50 555.47L728.50 555.87L730.50 556.27L732.50 556.67L734.50 557.07L736.50 557.46L738.50 557.85L740.50 558.24L742.50 558.62L744.50 559.01L746.50 559.39L748.50 559.77L750.50 560.14L752.50 560.51L754.50 560.88L756.50 561.25L758.50 561.62L760.50 561.98L762.50 562.34L764.50 562.70L766.50 563.05L768.50 563.40L770.50 563.75L772.50 564.10L774.50 564.44L776.50 564.78L778.50 565.12L780.50 565.46L782.50 565.79L784.50 566.12L786.50 566.45L788.50 566.77L790.50 567.10L792.50 567.42L794.50 567.73L796.50 568.05L798.50 568.36L800.50 568.67L802.50 568.97L804.50 569.27L806.50 569.58L808.50 569.87L810.50 570.17L812.50 570.46L814.50 570.75L816.50 571.04L818.50 571.32L820.50 571.60L822.50 571.88L824.50 572.16L826.50 572.43L828.50 572.70L830.50 572.97L832.50 573.24L834.50 573.50L836.50 573.76L838.50 574.02L840.50 574.28L842.50 574.53L844.50 574.79L846.50 575.03L848.50 575.28L850.50 575.53L852.50 575.77L854.50 576.01L856.50 576.25L858.50 576.48L860.50 576.72L862.50 576.95L864.50 577.18L866.50 577.40L868.50 577.63L870.50 577.85L872.50 578.07L874.50 578.29L876.50 578.50L878.50 578.72L880.50 578.93L882.50 579.14L884.50 579.34L886.50 579.55L888.50 579.75L890.50 579.95L892.50 580.15L894.50 580.35L896.50 580.55L898.50 580.74L900.50 580.93L902.50 581.12L904.50 581.31L906.50 581.49L908.50 581.68L910.50 581.86L912.50 582.04L914.50 582.22L916.50 582.40L918.50 582.57L920.50 582.74L922.50 582.92L924.50 583.09L926.50 583.25L928.50 583.42L930.50 583.58L932.50 583.75L934.50 583.91L936.50 584.07L938.50 584.23L940.50 584.38L942.50 584.54L944.50 584.69L946.50 584.84L948.50 584.99L950.50 585.14L952.50 585.29L954.50 585.44L956.50 585.58L958.50 585.72L960.50 585.86L962.50 586.00L964.50 586.14L966.50 586.28L968.50 586.42L970.50 586.55L972.50 586.68L974.50 586.82L976.50 586.95L977.70 587.03" stroke="#bebe00" stroke-width="3.8" stroke-dasharray="14.00 6.04" stroke-dashoffset="13.50"/>
<path d="M140.00 -18.46L142.00 -14.10L144.00 -9.76L146.00 -5.43L148.00 -1.13L150.00 3.16L152.00 7.43L154.00 11.68L156.00 15.91L158.00 20.13L160.00 24.32L162.00 28.50L164.00 32.66L166.00 36.81L168.00 40.93L170.00 45.04L172.00 49.12L174.00 53.19L176.00 57.24L178.00 61.28L180.00 65.29L182.00 69.29L184.00 73.26L186.00 77.22L188.00 81.16L190.00 85.08L192.00 88.99L194.00 92.87L196.00 96.74L198.00 100.58L200.00 104.41L202.00 108.22L204.00 112.01L206.00 115.79L208.00 119.54L210.00 123.27L212.00 126.99L214.00 130.69L216.00 134.36L218.00 138.02L220.00 141.66L222.00 145.28L224.00 148.88L226.00 152.47L228.00 156.03L230.00 159.58L232.00 163.10L234.00 166.61L236.00 170.10L238.00 173.57L240.00 177.02L242.00 180.46L244.00 183.87L246.00 187.27L248.00 190.65L250.00 194.01L252.00 197.35L254.00 200.68L256.00 203.99L258.00 207.27L260.00 210.55L262.00 213.80L264.00 217.03L266.00 220.25L268.00 223.45L270.00 226.63L272.00 229.80L274.00 232.95L276.00 236.08L278.00 239.19L280.00 242.28L282.00 245.36L284.00 248.42L286.00 251.47L288.00 254.49L290.00 257.50L292.00 260.49L294.00 263.47L296.00 266.43L298.00 269.37L300.00 272.30L302.00 275.21L304.00 278.10L306.00 280.97L308.00 283.83L310.00 286.68L312.00 289.50L314.00 292.31L316.00 295.11L318.00 297.89L320.00 300.65L322.00 303.39L324.00 306.13L326.00 308.84L328.00 311.54L330.00 314.22L332.00 316.89L334.00 319.54L336.00 322.18L338.00 324.80L340.00 327.41L342.00 330.00L344.00 332.57L346.00 335.13L348.00 337.68L350.00 340.21L352.00 342.72L354.00 345.23L356.00 347.71L358.00 350.18L360.00 352.64L362.00 355.08L364.00 357.51L366.00 359.92L368.00 362.32L370.00 364.71L372.00 367.08L374.00 369.44L376.00 371.78L378.00 374.11L380.00 376.42L382.00 378.72L384.00 381.01L386.00 383.28L388.00 385.55L390.00 387.79L392.00 390.02L394.00 392.24L396.00 394.45L398.00 396.64L400.00 398.82L402.00 400.99L404.00 403.14L406.00 405.29L408.00 407.41L410.00 409.53L412.00 411.63L414.00 413.72L416.00 415.80L418.00 417.86L420.00 419.91L422.00 421.95L424.00 423.98L426.00 425.99L428.00 427.99L430.00 429.98L432.00 431.96L434.00 433.93L436.00 435.88L438.00 437.82L440.00 439.75L442.00 441.67L444.00 443.57L446.00 445.47L448.00 447.35L450.00 449.22L452.00 451.08L454.00 452.92L456.00 454.76L458.00 456.58L460.00 458.40L462.00 460.20L464.00 461.99L466.00 463.77L468.00 465.53L470.00 467.29L472.00 469.04L474.00 470.77L476.00 472.49L478.00 474.21L480.00 475.91L482.00 477.60L484.00 479.28L486.00 480.95L488.00 482.61L490.00 484.26L492.00 485.90L494.00 487.53L496.00 489.14L498.00 490.75L500.00 492.35L502.00 493.94L504.00 495.51L506.00 497.08L508.00 498.64L510.00 500.19L512.00 501.72L514.00 503.25L516.00 504.77L518.00 506.28L520.00 507.78L522.00 509.27L524.00 510.75L526.00 512.22L528.00 513.68L530.00 515.13L532.00 516.57L534.00 518.00L536.00 519.43L538.00 520.84L540.00 522.24L542.00 523.64L544.00 525.03L546.00 526.40L548.00 527.77L550.00 529.13L552.00 530.48L554.00 531.82L556.00 533.15L558.00 534.47L560.00 535.79L562.00 537.09L564.00 538.39L566.00 539.67L568.00 540.95L570.00 542.22L572.00 543.48L574.00 544.73L576.00 545.98L578.00 547.21L580.00 548.43L582.00 549.65L584.00 550.86L586.00 552.06L588.00 553.25L590.00 554.43L592.00 555.61L594.00 556.77L596.00 557.93L598.00 559.08L600.00 560.22L602.00 561.35L604.00 562.47L606.00 563.58L608.00 564.69L610.00 565.79L612.00 566.88L614.00 567.96L616.00 569.03L618.00 570.10L620.00 571.16L622.00 572.21L624.00 573.25L626.00 574.28L628.00 575.31L630.00 576.32L632.00 577.33L634.00 578.33L636.00 579.33L638.00 580.31L640.00 581.29L642.00 582.26L644.00 583.22L646.00 584.18L648.00 585.13L650.00 586.07L652.00 587.00L654.00 587.92L656.00 588.84L658.00 589.75L660.00 590.65L662.00 591.54L664.00 592.43L666.00 593.31L668.00 594.18L670.00 595.04L672.00 595.90L674.00 596.75L676.00 597.59L678.00 598.42L680.00 599.25L682.00 600.07L684.00 600.88L686.00 601.69L688.00 602.49L690.00 603.28L692.00 604.07L694.00 604.84L696.00 605.61L698.00 606.38L700.00 607.13L702.00 607.88L704.00 608.63L706.00 609.36L708.00 610.09L710.00 610.82L712.00 611.53L714.00 612.24L716.00 612.94L718.00 613.64L720.00 614.33L722.00 615.01L724.00 615.69L726.00 616.36L728.00 617.02L730.00 617.68L732.00 618.33L734.00 618.97L736.00 619.61L738.00 620.24L740.00 620.87L742.00 621.49L744.00 622.10L746.00 622.71L748.00 623.31L750.00 623.91L752.00 624.50L754.00 625.08L756.00 625.66L758.00 626.23L760.00 626.80L762.00 627.36L764.00 627.91L766.00 628.46L768.00 629.01L770.00 629.54L772.00 630.08L774.00 630.60L776.00 631.13L778.00 631.64L780.00 632.15L782.00 632.66L784.00 633.16L786.00 633.65L788.00 634.14L790.00 634.63L792.00 635.11L794.00 635.58L796.00 636.05L798.00 636.52L800.00 636.98L802.00 637.43L804.00 637.88L806.00 638.32L808.00 638.76L810.00 639.20L812.00 639.63L814.00 640.06L816.00 640.48L818.00 640.89L820.00 641.30L822.00 641.71L824.00 642.11L826.00 642.51L828.00 642.91L830.00 643.30L832.00 643.68L834.00 644.06L836.00 644.44L838.00 644.81L840.00 645.18L842.00 645.55L844.00 645.91L846.00 646.26L848.00 646.61L850.00 646.96L852.00 647.31L854.00 647.65L856.00 647.98L858.00 648.31L860.00 648.64L862.00 648.97L864.00 649.29L866.00 649.61L868.00 649.92L870.00 650.23L872.00 650.54L874.00 650.84L876.00 651.14L878.00 651.44L880.00 651.73L882.00 652.02L884.00 652.31L886.00 652.59L888.00 652.87L890.00 653.15L892.00 653.42L894.00 653.69L896.00 653.96L898.00 654.23L900.00 654.49L902.00 654.75L904.00 655.00L906.00 655.25L908.00 655.51L910.00 655.75L912.00 656.00L914.00 656.24L916.00 656.48L918.00 656.71L920.00 656.95L922.00 657.18L924.00 657.41L926.00 657.64L928.00 657.86L930.00 658.08L932.00 658.30L934.00 658.52L936.00 658.73L938.00 658.94L940.00 659.15L942.00 659.36L944.00 659.57L946.00 659.77L948.00 659.98L950.00 660.18L952.00 660.37L954.00 660.57L956.00 660.76L958.00 660.96L960.00 661.15L962.00 661.34L964.00 661.52L966.00 661.71L968.00 661.89L970.00 662.07L972.00 662.26L974.00 662.43L976.00 662.61L977.70 662.76" stroke="#c8375f" stroke-width="3.8" stroke-dasharray="14.00 6.04" stroke-dashoffset="9.25"/>
<path d="M110.50 90.56L112.50 91.28L114.50 92.00L116.50 92.73L118.50 93.45L120.50 94.18L122.50 94.90L124.50 95.63L126.50 96.36L128.50 97.09L130.50 97.83L132.50 98.56L134.50 99.30L136.50 100.03L138.50 100.77L140.50 101.51L142.50 102.25L144.50 102.99L146.50 103.73L148.50 104.48L150.50 105.22L152.50 105.97L154.50 106.72L156.50 107.47L158.50 108.22L160.50 108.97L162.50 109.72L164.50 110.47L166.50 111.23L168.50 111.99L170.50 112.74L172.50 113.50L174.50 114.26L176.50 115.02L178.50 115.78L180.50 116.54L182.50 117.31L184.50 118.07L186.50 118.84L188.50 119.60L190.50 120.37L192.50 121.14L194.50 121.91L196.50 122.68L198.50 123.45L200.50 124.23L202.50 125.00L204.50 125.77L206.50 126.55L208.50 127.33L210.50 128.10L212.50 128.88L214.50 129.66L216.50 130.44L218.50 131.22L220.50 132.01L222.50 132.79L224.50 133.57L226.50 134.36L228.50 135.14L230.50 135.93L232.50 136.72L234.50 137.51L236.50 138.30L238.50 139.09L240.50 139.88L242.50 140.67L244.50 141.46L246.50 142.25L248.50 143.05L250.50 143.84L252.50 144.64L254.50 145.43L256.50 146.23L258.50 147.03L260.50 147.82L262.50 148.62L264.50 149.42L266.50 150.22L268.50 151.02L270.50 151.83L272.50 152.63L274.50 153.43L276.50 154.24L278.50 155.04L280.50 155.84L282.50 156.65L284.50 157.46L286.50 158.26L288.50 159.07L290.50 159.88L292.50 160.69L294.50 161.50L296.50 162.30L298.50 163.11L300.50 163.93L302.50 164.74L304.50 165.55L306.50 166.36L308.50 167.17L310.50 167.98L312.50 168.80L314.50 169.61L316.50 170.42L318.50 171.24L320.50 172.05L322.50 172.87L324.50 173.68L326.50 174.50L328.50 175.32L330.50 176.13L332.50 176.95L334.50 177.76L336.50 178.58L338.50 179.40L340.50 180.22L342.50 181.03L344.50 181.85L346.50 182.67L348.50 183.49L350.50 184.31L352.50 185.12L354.50 185.94L356.50 186.76L358.50 187.58L360.50 188.40L362.50 189.22L364.50 190.04L366.50 190.85L368.50 191.67L370.50 192.49L372.50 193.31L374.50 194.13L376.50 194.95L378.50 195.77L380.50 196.59L382.50 197.40L384.50 198.22L386.50 199.04L388.50 199.86L390.50 200.68L392.50 201.49L394.50 202.31L396.50 203.13L398.50 203.95L400.50 204.76L402.50 205.58L404.50 206.40L406.50 207.21L408.50 208.03L410.50 208.84L412.50 209.66L414.50 210.48L416.50 211.29L418.50 212.10L420.50 212.92L422.50 213.73L424.50 214.55L426.50 215.36L428.50 216.17L430.50 216.98L432.50 217.79L434.50 218.61L436.50 219.42L438.50 220.23L440.50 221.04L442.50 221.85L444.50 222.65L446.50 223.46L448.50 224.27L450.50 225.08L452.50 225.88L454.50 226.69L456.50 227.49L458.50 228.30L460.50 229.10L462.50 229.91L464.50 230.71L466.50 231.51L468.50 232.31L470.50 233.11L472.50 233.91L474.50 234.70L476.50 235.50L478.50 236.30L480.50 237.09L482.50 237.88L484.50 238.67L486.50 239.46L488.50 240.25L490.50 241.03L492.50 241.81L494.50 242.60L496.50 243.37L498.50 244.15L500.50 244.93L502.50 245.70L504.50 246.47L506.50 247.24L508.50 248.01L510.50 248.77L512.50 249.53L514.50 250.29L516.50 251.04L518.50 251.80L520.50 252.55L522.50 253.29L524.50 254.04L526.50 254.78L528.50 255.52L530.50 256.25L532.50 256.98L534.50 257.71L536.50 258.44L538.50 259.16L540.50 259.88L542.50 260.59L544.50 261.30L546.50 262.01L548.50 262.71L550.50 263.41L552.50 264.10L554.50 264.80L556.50 265.48L558.50 266.17L560.50 266.84L562.50 267.52L564.50 268.19L566.50 268.85L568.50 269.51L570.50 270.17L572.50 270.82L574.50 271.47L576.50 272.11L578.50 272.74L580.50 273.38L582.50 274.00L584.50 274.62L586.50 275.24L588.50 275.85L590.50 276.46L592.50 277.06L594.50 277.65L596.50 278.24L598.50 278.82L600.50 279.40L602.50 279.97L604.50 280.54L606.50 281.10L608.50 281.65L610.50 282.20L612.50 282.74L614.50 283.28L616.50 283.81L618.50 284.33L620.50 284.85L622.50 285.36L624.50 285.86L626.50 286.36L628.50 286.85L630.50 287.33L632.50 287.81L634.50 288.28L636.50 288.74L638.50 289.20L640.50 289.65L642.50 290.09L644.50 290.52L646.50 290.95L648.50 291.38L650.50 291.80L652.50 292.21L654.50 292.61L656.50 293.01L658.50 293.40L660.50 293.79L662.50 294.17L664.50 294.54L666.50 294.91L668.50 295.27L670.50 295.63L672.50 295.98L674.50 296.33L676.50 296.67L678.50 297.00L680.50 297.33L682.50 297.65L684.50 297.97L686.50 298.28L688.50 298.59L690.50 298.89L692.50 299.19L694.50 299.48L696.50 299.77L698.50 300.05L700.50 300.33L702.50 300.60L704.50 300.86L706.50 301.13L708.50 301.38L710.50 301.64L712.50 301.89L714.50 302.13L716.50 302.37L718.50 302.60L720.50 302.84L722.50 303.06L724.50 303.28L726.50 303.50L728.50 303.72L730.50 303.93L732.50 304.13L734.50 304.33L736.50 304.53L738.50 304.73L740.50 304.92L742.50 305.10L744.50 305.29L746.50 305.46L748.50 305.64L750.50 305.81L752.50 305.98L754.50 306.15L756.50 306.31L758.50 306.47L760.50 306.62L762.50 306.78L764.50 306.93L766.50 307.07L768.50 307.22L770.50 307.36L772.50 307.49L774.50 307.63L776.50 307.76L778.50 307.89L780.50 308.02L782.50 308.14L784.50 308.26L786.50 308.38L788.50 308.50L790.50 308.61L792.50 308.73L794.50 308.84L796.50 308.94L798.50 309.05L800.50 309.15L802.50 309.26L804.50 309.36L806.50 309.45L808.50 309.55L810.50 309.64L812.50 309.74L814.50 309.83L816.50 309.91L818.50 310.00L820.50 310.08L822.50 310.17L824.50 310.25L826.50 310.33L828.50 310.40L830.50 310.48L832.50 310.55L834.50 310.62L836.50 310.69L838.50 310.76L840.50 310.83L842.50 310.89L844.50 310.95L846.50 311.01L848.50 311.07L850.50 311.13L852.50 311.18L854.50 311.24L856.50 311.29L858.50 311.34L860.50 311.38L862.50 311.43L864.50 311.47L866.50 311.52L868.50 311.56L870.50 311.60L872.50 311.63L874.50 311.67L876.50 311.70L878.50 311.73L880.50 311.76L882.50 311.79L884.50 311.81L886.50 311.84L888.50 311.86L890.50 311.88L892.50 311.90L894.50 311.92L896.50 311.93L898.50 311.95L900.50 311.96L902.50 311.97L904.50 311.97L906.50 311.98L908.50 311.99L910.50 311.99L912.50 311.99L914.50 311.99L916.50 311.99L918.50 311.98L920.50 311.98L922.50 311.97L924.50 311.96L926.50 311.95L928.50 311.94L930.50 311.92L932.50 311.91L934.50 311.89L936.50 311.87L938.50 311.85L940.50 311.82L942.50 311.80L944.50 311.77L946.50 311.75L948.50 311.72L950.50 311.68L952.50 311.65L954.50 311.62L956.50 311.58L958.50 311.54L960.50 311.50L962.50 311.46L964.50 311.42L966.50 311.37L968.50 311.33L970.50 311.28L972.50 311.23L974.50 311.18L976.50 311.12L977.70 311.09" stroke="#000" stroke-width="3.5"/>
</g>
<path d="M368.1 466.3V536.6M352.9 501.5H382.4" stroke="#000" stroke-width="3.3" fill="none"/><path d="M361.5 466.3h13.2M361.5 536.6h13.2M352.9 494.9v13.2M382.4 494.9v13.2" stroke="#000" stroke-width="2.1" fill="none"/><path d="M457.3 495.5V553.2M440.4 524.2H472.8" stroke="#000" stroke-width="3.3" fill="none"/><path d="M450.7 495.5h13.2M450.7 553.2h13.2M440.4 517.6v13.2M472.8 517.6v13.2" stroke="#000" stroke-width="2.1" fill="none"/><path d="M508.5 472.6V551.6M491.4 512.1H524.6" stroke="#000" stroke-width="3.3" fill="none"/><path d="M501.9 472.6h13.2M501.9 551.6h13.2M491.4 505.5v13.2M524.6 505.5v13.2" stroke="#000" stroke-width="2.1" fill="none"/><path d="M508.5 470.8V529.0M491.4 499.9H524.6" stroke="#000" stroke-width="3.3" fill="none"/><path d="M501.9 470.8h13.2M501.9 529.0h13.2M491.4 493.3v13.2M524.6 493.3v13.2" stroke="#000" stroke-width="2.1" fill="none"/><path d="M566.8 463.2V533.0M553.6 498.0H579.9" stroke="#000" stroke-width="3.3" fill="none"/><path d="M560.2 463.2h13.2M560.2 533.0h13.2M553.6 491.4v13.2M579.9 491.4v13.2" stroke="#000" stroke-width="2.1" fill="none"/><path d="M644.4 429.3V520.2M624.8 475.0H663.2" stroke="#000" stroke-width="3.3" fill="none"/><path d="M637.8 429.3h13.2M637.8 520.2h13.2M624.8 468.4v13.2M663.2 468.4v13.2" stroke="#000" stroke-width="2.1" fill="none"/><path d="M671.4 340.8V431.3M662.8 385.9H680.3" stroke="#000" stroke-width="3.3" fill="none"/><path d="M664.8 340.8h13.2M664.8 431.3h13.2M662.8 379.3v13.2M680.3 379.3v13.2" stroke="#000" stroke-width="2.1" fill="none"/><path d="M703.6 145.9V389.2M680.0 267.9H725.0" stroke="#000" stroke-width="3.3" fill="none"/><path d="M697.0 145.9h13.2M697.0 389.2h13.2M680.0 261.3v13.2M725.0 261.3v13.2" stroke="#000" stroke-width="2.1" fill="none"/><circle cx="368.1" cy="501.5" r="5.6" fill="#fff" stroke="#000" stroke-width="1.9"/><circle cx="457.3" cy="524.2" r="5.6" fill="#fff" stroke="#000" stroke-width="1.9"/><circle cx="508.5" cy="512.1" r="5.6" fill="#fff" stroke="#000" stroke-width="1.9"/><circle cx="508.5" cy="499.9" r="5.6" fill="#fff" stroke="#000" stroke-width="1.9"/><circle cx="566.8" cy="498.0" r="5.6" fill="#fff" stroke="#000" stroke-width="1.9"/><circle cx="644.4" cy="475.0" r="5.6" fill="#fff" stroke="#000" stroke-width="1.9"/><circle cx="671.4" cy="385.9" r="5.6" fill="#fff" stroke="#000" stroke-width="1.9"/><circle cx="703.6" cy="267.9" r="5.6" fill="#fff" stroke="#000" stroke-width="1.9"/>
<rect x="110.50" y="1.40" width="867.20" height="732.55" fill="none" stroke="#000" stroke-width="3"/>
<path d="M99.00 733.95H110.50M104.50 709.54H110.50M104.50 685.12H110.50M104.50 660.71H110.50M99.00 636.30H110.50M104.50 611.89H110.50M104.50 587.48H110.50M104.50 563.06H110.50M99.00 538.65H110.50M104.50 514.24H110.50M104.50 489.83H110.50M104.50 465.41H110.50M99.00 441.00H110.50M104.50 416.59H110.50M104.50 392.18H110.50M104.50 367.76H110.50M99.00 343.35H110.50M104.50 318.94H110.50M104.50 294.53H110.50M104.50 270.11H110.50M99.00 245.70H110.50M104.50 221.29H110.50M104.50 196.88H110.50M104.50 172.46H110.50M99.00 148.05H110.50M104.50 123.64H110.50M104.50 99.23H110.50M104.50 74.81H110.50M99.00 50.40H110.50M104.50 25.99H110.50M104.50 1.58H110.50" stroke="#000" stroke-width="2.6" fill="none"/>
<text x="89.5" y="744.65" font-size="34.5" text-anchor="end">0</text>
<text x="89.5" y="648.67" font-size="34.5" text-anchor="end">2</text>
<text x="89.5" y="549.95" font-size="34.5" text-anchor="end">4</text>
<text x="89.5" y="450.41" font-size="34.5" text-anchor="end">6</text>
<text x="89.5" y="354.75" font-size="34.5" text-anchor="end">8</text>
<text x="89.5" y="256.90" font-size="34.5" text-anchor="end">0</text>
<text x="89.5" y="161.15" font-size="34.5" text-anchor="end">2</text>
<text x="89.5" y="60.15" font-size="34.5" text-anchor="end">4</text>
<path d="M61.00 256.90H64.20V233.30H61.90C61.50 235.20 60.00 237.00 57.60 237.30L55.60 237.40V239.80H61.00ZM61.00 161.15H64.20V137.55H61.90C61.50 139.45 60.00 141.25 57.60 141.55L55.60 141.65V144.05H61.00ZM61.00 60.15H64.20V36.55H61.90C61.50 38.45 60.00 40.25 57.60 40.55L55.60 40.65V43.05H61.00Z" fill="#000"/>
<path d="M110.42 733.95V739.95M181.57 733.95V739.95M236.76 733.95V739.95M281.86 733.95V739.95M319.98 733.95V739.95M353.01 733.95V739.95M382.14 733.95V739.95M408.20 733.95V745.45M579.64 733.95V739.95M679.92 733.95V739.95M751.07 733.95V739.95M806.26 733.95V739.95M851.36 733.95V739.95M889.48 733.95V739.95M922.51 733.95V739.95M951.64 733.95V739.95" stroke="#000" stroke-width="2.6" fill="none"/>
<path d="M977.70 733.95V745.45" stroke="#000" stroke-width="3" fill="none"/>
<text x="237.56" y="781.2" font-size="34" text-anchor="middle">0.5</text>
<text x="811.76" y="781.2" font-size="34" text-anchor="middle">5</text>
<text x="997.90" y="781.2" font-size="34" text-anchor="end">0</text>
<path d="M406.40 781.00H409.70V757.90H407.30C406.90 759.80 405.40 761.60 403.00 761.90L401.00 762.00V764.40H406.40ZM969.00 781.00H972.30V757.90H969.90C969.50 759.80 968.00 761.60 965.60 761.90L963.60 762.00V764.40H969.00Z" fill="#000"/>
<text x="415" y="827.2" font-size="34.5" textLength="259.5" lengthAdjust="spacing">Temperature (<tspan font-family="Liberation Serif">μ</tspan>K)</text>
<g transform="translate(31 367) rotate(-90)"><text id="yl" font-size="34" text-anchor="middle"><tspan font-style="italic">k</tspan><tspan font-size="24" dy="7">2</tspan><tspan dy="-7"> (× 0</tspan><tspan font-size="24.5" dy="-13">−  </tspan><tspan dy="13"> cm</tspan><tspan font-size="24.5" dy="-13">3</tspan><tspan dy="13"> s</tspan><tspan font-size="24.5" dy="-13">− </tspan><tspan dy="13">)</tspan></text><path d="M-63.74 0.00H-60.51V-23.12H-62.84C-63.24 -21.22 -64.74 -19.42 -67.14 -19.12L-68.85 -19.02V-16.62H-63.74ZM-13.71 -13.00H-11.38V-29.66H-13.06C-13.35 -28.29 -14.43 -26.99 -16.16 -26.78L-17.39 -26.71V-24.98H-13.71ZM-0.08 -13.00H2.24V-29.66H0.56C0.28 -28.29 -0.81 -26.99 -2.53 -26.78L-3.77 -26.71V-24.98H-0.08ZM122.73 -13.00H125.06V-29.66H123.38C123.09 -28.29 122.01 -26.99 120.28 -26.78L119.04 -26.71V-24.98H122.73Z"/></g>
<g transform="translate(330.5 151.5) rotate(22.9)"><text id="ul" font-size="29">Universal limit (<tspan font-style="italic">y</tspan> =  <tspan dx="2.2">)</tspan></text><path transform="translate(247.93 0) skewX(-12) translate(-245.73 0)" d="M252.17 0.00H254.78V-19.72H252.94C252.60 -18.10 251.32 -16.56 249.27 -16.31L248.91 -16.22V-14.18H252.17Z"/></g>
<text transform="translate(839.6 295.5) rotate(-29.6)" font-size="29.5" fill="#004382">0.26, 0.56<tspan font-family="Liberation Serif" font-style="italic">π</tspan></text>
<text transform="translate(733 469) rotate(-3.5)" font-size="28.9" fill="#008000"><tspan font-style="italic">y</tspan> = 0.30, <tspan font-family="Liberation Serif" font-style="italic">δ</tspan><tspan font-size="21" dy="-12" font-style="italic">s</tspan><tspan dy="12"> = 3</tspan><tspan font-family="Liberation Serif" font-style="italic">π</tspan>/4</text>
<text transform="translate(846 563) rotate(3.4)" font-size="29.3" fill="#bebe00">0.07, <tspan font-family="Liberation Serif" font-style="italic">π</tspan>/4</text>
<text x="846.5" y="632" font-size="29.3" fill="#c8375f">0.02, <tspan font-family="Liberation Serif" font-style="italic">π</tspan>/8</text>
</svg></body></html>
